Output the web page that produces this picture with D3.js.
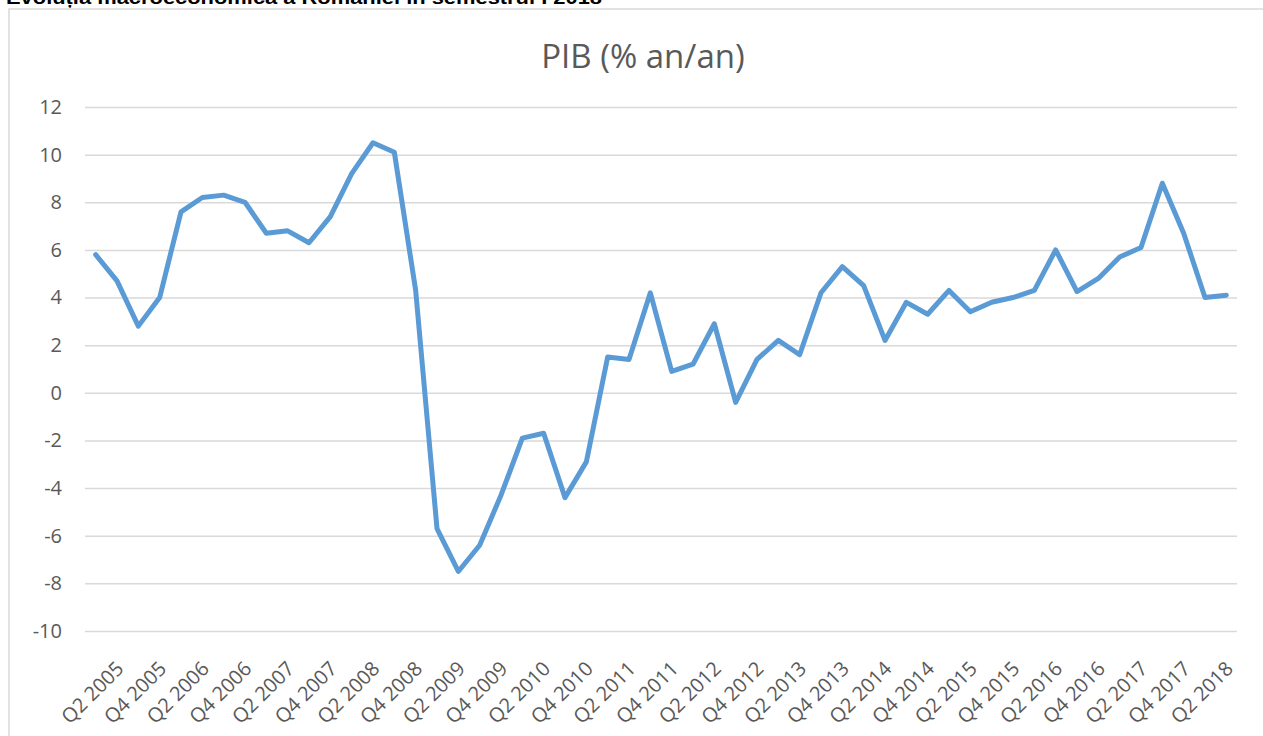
<!DOCTYPE html>
<html>
<head>
<meta charset="utf-8">
<script src="https://cdn.jsdelivr.net/npm/d3@7"></script>
<style>
  body { margin: 0; background: #fff; }
  svg { display: block; }
</style>
</head>
<body>
<svg id="chart"></svg>
<script>
// quarters Q1 2005 .. Q2 2018
const quarters = [];
for (let yr = 2005; yr <= 2018; yr++) {
    for (let q = 1; q <= 4; q++) {
        if (yr === 2018 && q > 2) break;
        quarters.push("Q" + q + " " + yr);
    }
}

// PIB, % an/an
const pib = [
    5.8, 4.7, 2.8, 4.0, 7.6, 8.2, 8.3, 8.0,
    6.7, 6.8, 6.3, 7.4, 9.2, 10.5, 10.1, 4.3,
    -5.7, -7.5, -6.4, -4.3, -1.9, -1.7, -4.4, -2.9,
    1.5, 1.4, 4.2, 0.9, 1.2, 2.9, -0.4, 1.4,
    2.2, 1.6, 4.2, 5.3, 4.5, 2.2, 3.8, 3.3,
    4.3, 3.4, 3.8, 4.0, 4.3, 6.0, 4.25, 4.8,
    5.7, 6.1, 8.8, 6.7, 4.0, 4.1
];

const yTicks = [-10, -8, -6, -4, -2, 0, 2, 4, 6, 8, 10, 12];

const svg = d3.select("#chart")
    .attr("width", 1263)
    .attr("height", 736);

// page heading, cut by the top edge like in the source
svg.append("text")
    .attr("x", 6)
    .attr("y", 4)
    .attr("textLength", 596)
    .attr("lengthAdjust", "spacingAndGlyphs")
    .style("font-family", "'Liberation Sans', Arial, sans-serif")
    .style("font-weight", "bold")
    .style("font-size", "19px")
    .style("fill", "#000")
    .text("Evoluția macroeconomică a României în semestrul I 2018");

// chart frame
svg.append("rect")
    .attr("x", 9)
    .attr("y", 9)
    .attr("width", 1270)
    .attr("height", 760)
    .attr("fill", "none")
    .attr("stroke", "#d9d9d9")
    .attr("stroke-width", 1.5);

svg.append("text")
    .attr("x", 643)
    .attr("y", 68)
    .attr("text-anchor", "middle")
    .style("font-family", "'Open Sans', sans-serif")
    .style("font-size", "33px")
    .style("fill", "#595959")
    .text("PIB (% an/an)");

const x = d3.scaleBand()
    .domain(quarters)
    .range([85, 1237]);

const y = d3.scaleLinear()
    .domain([-10, 12])
    .range([631, 107]);

// grid + y labels
const yAxis = d3.axisLeft(y)
    .tickValues(yTicks)
    .tickFormat(d => String(d))
    .tickSize(-(1237 - 85))
    .tickPadding(23);

const gy = svg.append("g")
    .attr("transform", "translate(85,0)")
    .call(yAxis);
gy.select(".domain").remove();
gy.selectAll(".tick line")
    .attr("stroke", "#d9d9d9")
    .attr("stroke-width", 1.5);
gy.selectAll(".tick text")
    .style("font-family", "'Open Sans', sans-serif")
    .style("font-size", "20px")
    .style("fill", "#595959");

// x labels, every second quarter
const xAxis = d3.axisBottom(x)
    .tickValues(quarters.filter((d, i) => i % 2 === 1))
    .tickSize(0)
    .tickPadding(0);

const gx = svg.append("g")
    .attr("transform", "translate(0,631)")
    .call(xAxis);
gx.select(".domain").remove();
gx.selectAll(".tick text")
    .attr("text-anchor", "end")
    .attr("dy", "0.35em")
    .attr("transform", "translate(3,34) rotate(-45)")
    .style("font-family", "'Open Sans', sans-serif")
    .style("font-size", "20px")
    .style("fill", "#595959");

const line = d3.line()
    .x((d, i) => x(quarters[i]) + x.bandwidth() / 2)
    .y(d => y(d));

svg.append("path")
    .datum(pib)
    .attr("fill", "none")
    .attr("stroke", "#5b9bd5")
    .attr("stroke-width", 5)
    .attr("stroke-linejoin", "round")
    .attr("stroke-linecap", "round")
    .attr("d", line);
</script>
</body>
</html>
